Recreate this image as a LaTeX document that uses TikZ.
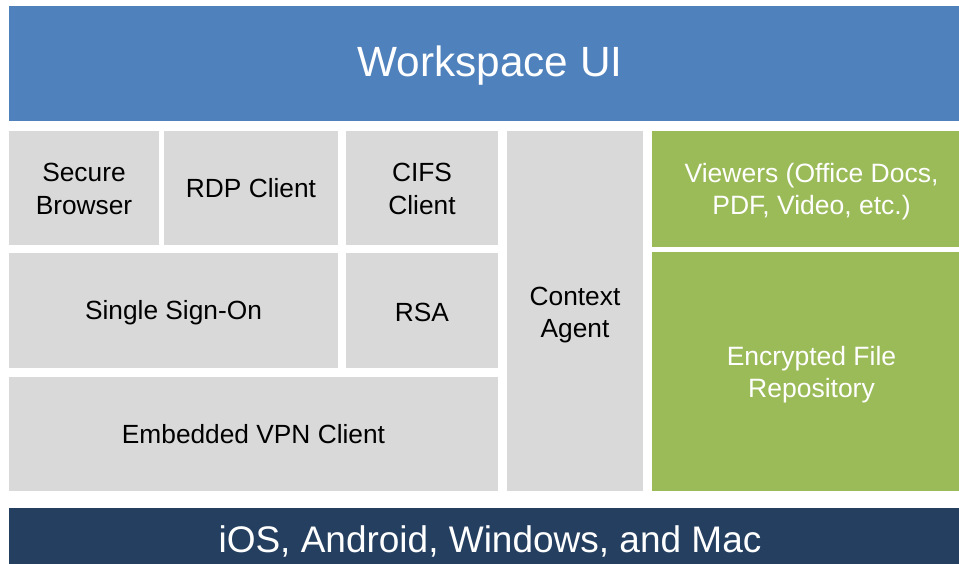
\documentclass[tikz,border=0pt]{standalone}
\usepackage{fontspec}
\setmainfont{Liberation Sans}
\definecolor{topblue}{HTML}{4F81BD}
\definecolor{boxgray}{HTML}{D9D9D9}
\definecolor{boxgreen}{HTML}{9BBB59}
\definecolor{darkblue}{HTML}{243F60}
\begin{document}
\begin{tikzpicture}[x=1pt,y=-1pt,
  blk/.style={rectangle,anchor=north west,inner sep=0pt,outer sep=0pt,align=center},
  graybox/.style={blk,fill=boxgray},
  greenbox/.style={blk,fill=boxgreen},
  graytext/.style={inner sep=0pt,align=center,text=black,font=\fontsize{26.3}{32.4}\selectfont},
  greentext/.style={inner sep=0pt,align=center,text=white,font=\fontsize{26.5}{31.8}\selectfont},
]
\useasboundingbox (0,0) rectangle (959,564);
\clip (0,0) rectangle (959,564);
\fill[white] (0,0) rectangle (959,564);
% top bar
\node[blk,fill=topblue,text=white,font=\fontsize{42.3}{48}\selectfont,
  minimum width=962pt,minimum height=115pt,text height=26.4pt,text depth=0pt] (ui) at (9,6)
  {Workspace UI};
% boxes
\node[graybox,minimum width=150pt,minimum height=114pt] (sb) at (9,131) {};
\node[graybox,minimum width=174pt,minimum height=114pt] (rdp) at (164,131) {};
\node[graybox,minimum width=152pt,minimum height=114pt] (cifs) at (346,131) {};
\node[graybox,minimum width=329pt,minimum height=115pt] (sso) at (9,253) {};
\node[graybox,minimum width=152pt,minimum height=115pt] (rsa) at (346,253) {};
\node[graybox,minimum width=489pt,minimum height=114pt] (vpn) at (9,377) {};
\node[graybox,minimum width=136pt,minimum height=360pt] (ctx) at (507,131) {};
\node[greenbox,minimum width=319pt,minimum height=116pt] (view) at (652,131) {};
\node[greenbox,minimum width=319pt,minimum height=239pt] (enc) at (652,252) {};
% texts
\node[graytext] (sbt) at ([yshift=-1pt]sb.center) {Secure\\Browser};
\node[graytext] (rdpt) at ([yshift=-0.5pt]rdp.center) {RDP Client};
\node[graytext] (cifst) at ([yshift=-1pt]cifs.center) {CIFS\\Client};
\node[graytext] (ssot) at ([yshift=-2.5pt]sso.center) {Single Sign-On};
\node[graytext] (rsat) at ([yshift=-1.5pt]rsa.center) {RSA};
\node[graytext] (vpnt) at ([yshift=-0.5pt]vpn.center) {Embedded VPN Client};
\node[graytext] (ctxt) at ([yshift=-4pt]ctx.center) {Context\\Agent};
\node[greentext] (viewt) at ([yshift=-3pt]view.center) {Viewers (Office Docs,\\PDF, Video, etc.)};
\node[greentext] (enct) at ([yshift=-3.5pt]enc.center) {Encrypted File\\Repository};
% bottom bar
\node[blk,fill=darkblue,text=white,font=\fontsize{37}{42}\selectfont,
  minimum width=962pt,minimum height=66pt] (os) at (9,508) {iOS, Android, Windows, and Mac};
\end{tikzpicture}
\end{document}
